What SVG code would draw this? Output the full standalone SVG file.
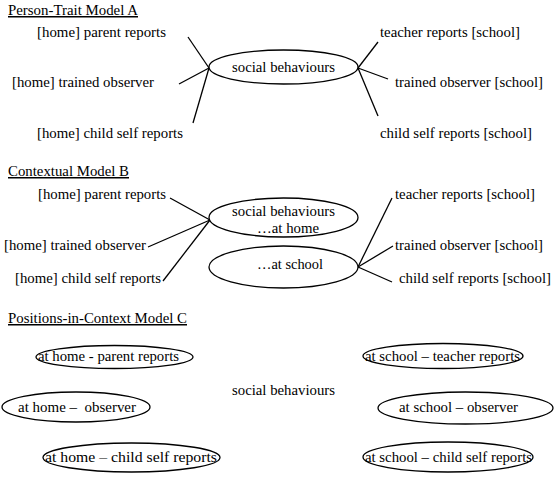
<svg xmlns="http://www.w3.org/2000/svg" width="555" height="478" viewBox="0 0 555 478">
<rect width="555" height="478" fill="#fff"/>
<g id="titles">
<text x="8" y="15" style="font-family:'Liberation Serif',serif;font-size:15px" text-decoration="underline" textLength="130" lengthAdjust="spacingAndGlyphs">Person-Trait Model A</text>
<text x="8" y="176" style="font-family:'Liberation Serif',serif;font-size:15px" text-decoration="underline" textLength="121" lengthAdjust="spacingAndGlyphs">Contextual Model B</text>
<text x="8" y="323" style="font-family:'Liberation Serif',serif;font-size:15px" text-decoration="underline" textLength="179" lengthAdjust="spacingAndGlyphs">Positions-in-Context Model C</text>
</g>
<g id="connectors" stroke="#000" stroke-width="1.3">
<line x1="209" y1="68" x2="188" y2="37"/>
<line x1="209" y1="68" x2="179" y2="84"/>
<line x1="209" y1="68" x2="193" y2="123"/>
<line x1="358" y1="68" x2="378" y2="42"/>
<line x1="358" y1="68" x2="388" y2="79"/>
<line x1="358" y1="68" x2="378" y2="116"/>
<line x1="210" y1="220" x2="170" y2="198"/>
<line x1="210" y1="220" x2="148" y2="247"/>
<line x1="210" y1="220" x2="163" y2="281"/>
<line x1="358" y1="267" x2="392" y2="198"/>
<line x1="358" y1="267" x2="393" y2="246"/>
<line x1="358" y1="267" x2="392" y2="282"/>
</g>
<g id="nodeA">
<ellipse cx="283.5" cy="67" rx="74.5" ry="17" fill="#fff" stroke="#000" stroke-width="1.3"/>
<text x="232" y="72" style="font-family:'Liberation Serif',serif;font-size:15px" textLength="103" lengthAdjust="spacingAndGlyphs">social behaviours</text>
</g>
<g id="a-home-parent"><text x="37" y="37" style="font-family:'Liberation Serif',serif;font-size:15px" textLength="129" lengthAdjust="spacingAndGlyphs">[home] parent reports</text></g>
<g id="a-home-observer"><text x="12" y="87" style="font-family:'Liberation Serif',serif;font-size:15px" textLength="142" lengthAdjust="spacingAndGlyphs">[home] trained observer</text></g>
<g id="a-home-child"><text x="37" y="138" style="font-family:'Liberation Serif',serif;font-size:15px" textLength="146" lengthAdjust="spacingAndGlyphs">[home] child self reports</text></g>
<g id="a-school-teacher"><text x="380" y="37" style="font-family:'Liberation Serif',serif;font-size:15px" textLength="140" lengthAdjust="spacingAndGlyphs">teacher reports [school]</text></g>
<g id="a-school-observer"><text x="395" y="87" style="font-family:'Liberation Serif',serif;font-size:15px" textLength="148" lengthAdjust="spacingAndGlyphs">trained observer [school]</text></g>
<g id="a-school-child"><text x="380" y="138" style="font-family:'Liberation Serif',serif;font-size:15px" textLength="152" lengthAdjust="spacingAndGlyphs">child self reports [school]</text></g>
<g id="nodeB-home">
<ellipse cx="283.5" cy="217.5" rx="74.5" ry="19.5" fill="#fff" stroke="#000" stroke-width="1.3"/>
<text x="232" y="216" style="font-family:'Liberation Serif',serif;font-size:15px" textLength="103" lengthAdjust="spacingAndGlyphs">social behaviours</text>
<text x="257" y="233" style="font-family:'Liberation Serif',serif;font-size:15px" textLength="62" lengthAdjust="spacingAndGlyphs">&#8230;at home</text>
</g>
<g id="nodeB-school">
<ellipse cx="283.5" cy="267" rx="74.5" ry="21" fill="#fff" stroke="#000" stroke-width="1.3"/>
<text x="257" y="269" style="font-family:'Liberation Serif',serif;font-size:15px" textLength="66" lengthAdjust="spacingAndGlyphs">&#8230;at school</text>
</g>
<g id="b-home-parent"><text x="38" y="199" style="font-family:'Liberation Serif',serif;font-size:15px" textLength="128" lengthAdjust="spacingAndGlyphs">[home] parent reports</text></g>
<g id="b-home-observer"><text x="4" y="250" style="font-family:'Liberation Serif',serif;font-size:15px" textLength="142" lengthAdjust="spacingAndGlyphs">[home] trained observer</text></g>
<g id="b-home-child"><text x="15" y="283" style="font-family:'Liberation Serif',serif;font-size:15px" textLength="146" lengthAdjust="spacingAndGlyphs">[home] child self reports</text></g>
<g id="b-school-teacher"><text x="395" y="199" style="font-family:'Liberation Serif',serif;font-size:15px" textLength="140" lengthAdjust="spacingAndGlyphs">teacher reports [school]</text></g>
<g id="b-school-observer"><text x="395" y="250" style="font-family:'Liberation Serif',serif;font-size:15px" textLength="148" lengthAdjust="spacingAndGlyphs">trained observer [school]</text></g>
<g id="b-school-child"><text x="399" y="283" style="font-family:'Liberation Serif',serif;font-size:15px" textLength="152" lengthAdjust="spacingAndGlyphs">child self reports [school]</text></g>
<g id="c-center"><text x="232" y="395" style="font-family:'Liberation Serif',serif;font-size:15px" textLength="103" lengthAdjust="spacingAndGlyphs">social behaviours</text></g>
<g id="c-home-parent">
<ellipse cx="114.5" cy="357" rx="78.5" ry="11.5" fill="#fff" stroke="#000" stroke-width="1.3"/>
<text x="38" y="361" style="font-family:'Liberation Serif',serif;font-size:15px" textLength="141" lengthAdjust="spacingAndGlyphs">at home - parent reports</text>
</g>
<g id="c-home-observer">
<ellipse cx="76" cy="407" rx="74" ry="15" fill="#fff" stroke="#000" stroke-width="1.3"/>
<text x="18" y="412" style="font-family:'Liberation Serif',serif;font-size:15px" textLength="118" lengthAdjust="spacingAndGlyphs" xml:space="preserve">at home &#8211;  observer</text>
</g>
<g id="c-home-child">
<ellipse cx="131.5" cy="457.5" rx="88.5" ry="14.5" fill="#fff" stroke="#000" stroke-width="1.3"/>
<text x="45" y="462" style="font-family:'Liberation Serif',serif;font-size:15px" textLength="172" lengthAdjust="spacingAndGlyphs">at home &#8211; child self reports</text>
</g>
<g id="c-school-teacher">
<ellipse cx="443" cy="356" rx="80" ry="12.5" fill="#fff" stroke="#000" stroke-width="1.3"/>
<text x="365" y="361" style="font-family:'Liberation Serif',serif;font-size:15px" textLength="155" lengthAdjust="spacingAndGlyphs">at school &#8211; teacher reports</text>
</g>
<g id="c-school-observer">
<ellipse cx="465.5" cy="408" rx="87.5" ry="16" fill="#fff" stroke="#000" stroke-width="1.3"/>
<text x="399" y="412" style="font-family:'Liberation Serif',serif;font-size:15px" textLength="119" lengthAdjust="spacingAndGlyphs">at school &#8211; observer</text>
</g>
<g id="c-school-child">
<ellipse cx="448" cy="457" rx="85" ry="15" fill="#fff" stroke="#000" stroke-width="1.3"/>
<text x="365" y="462" style="font-family:'Liberation Serif',serif;font-size:15px" textLength="167" lengthAdjust="spacingAndGlyphs">at school &#8211; child self reports</text>
</g>
</svg>
